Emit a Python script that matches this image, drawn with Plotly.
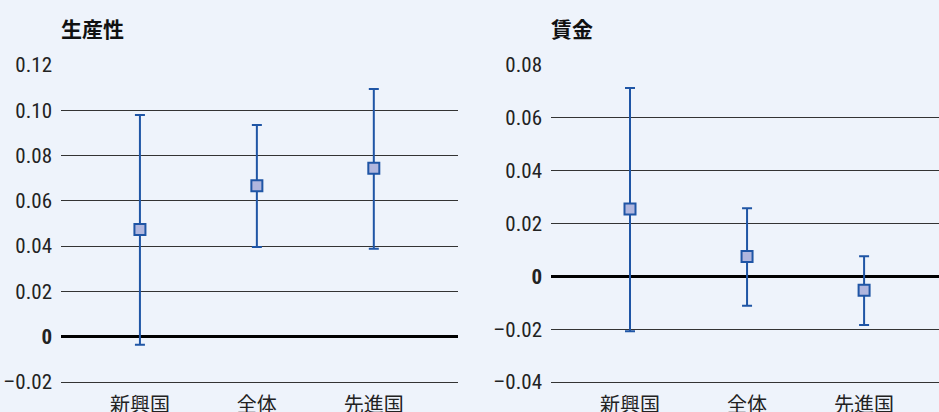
import plotly.graph_objects as go

categories = ["新興国", "全体", "先進国"]

prod_values = [0.0474, 0.0667, 0.0744]
prod_upper = [0.0979, 0.0935, 0.1094]
prod_lower = [-0.0035, 0.0396, 0.0389]

wage_values = [0.0255, 0.0075, -0.0053]
wage_upper = [0.0713, 0.0258, 0.0076]
wage_lower = [-0.0208, -0.0111, -0.0184]

prod_ticks = [-0.02, 0, 0.02, 0.04, 0.06, 0.08, 0.10, 0.12]
prod_ticktext = ["–0.02", "<b>0</b>", "0.02", "0.04", "0.06", "0.08", "0.10", "0.12"]
wage_ticks = [-0.04, -0.02, 0, 0.02, 0.04, 0.06, 0.08]
wage_ticktext = ["–0.04", "–0.02", "<b>0</b>", "0.02", "0.04", "0.06", "0.08"]

titles = ["生産性", "賃金"]

BG = "#EEF3FB"
BLUE = "#1F55A5"
FILL = "#B0B6DE"
NUM_FONT = "Liberation Sans Narrow, Roboto Condensed, Roboto, sans-serif"
CJK_FONT = "Noto Sans CJK JP, sans-serif"

W, H = 939, 412

fig = go.Figure()

def add_panel(values, upper, lower, xa, ya):
    fig.add_trace(go.Scatter(
        x=list(range(len(categories))), y=values, mode="markers",
        xaxis=xa, yaxis=ya,
        marker=dict(symbol="square", size=11, color=FILL, line=dict(color=BLUE, width=2)),
        error_y=dict(type="data", symmetric=False,
                     array=[u - v for u, v in zip(upper, values)],
                     arrayminus=[v - l for v, l in zip(values, lower)],
                     color=BLUE, thickness=2, width=5),
        showlegend=False, cliponaxis=False,
    ))

add_panel(prod_values, prod_upper, prod_lower, "x", "y")
add_panel(wage_values, wage_upper, wage_lower, "x2", "y2")

# slightly padded domain so the end gridlines are drawn
pad = 1.0
ydom = [1 - (382 + pad) / H, 1 - (65 - pad) / H]
span_px = 317.0

def padded(lo, hi):
    per = (hi - lo) / span_px
    return [lo - pad * per, hi + pad * per]

common_x = dict(
    tickmode="array", tickvals=list(range(len(categories))), ticktext=categories,
    showgrid=False, zeroline=False, showline=False, ticks="",
    ticklabelstandoff=8,
    tickfont=dict(family=CJK_FONT, size=20, color="#222"),
    automargin=False, fixedrange=True,
)
common_y = dict(
    showgrid=True, gridcolor="#333333", gridwidth=1.2,
    zeroline=True, zerolinecolor="#000", zerolinewidth=2.5,
    showline=False, ticks="", ticklabelstandoff=8,
    tickfont=dict(family=NUM_FONT, size=21, color="#222"),
    automargin=False, fixedrange=True,
)

fig.update_layout(
    width=W, height=H,
    margin=dict(l=0, r=0, t=0, b=0),
    paper_bgcolor=BG, plot_bgcolor=BG,
    xaxis=dict(domain=[61 / W, 458 / W], range=[-0.675, 2.72], anchor="y", **common_x),
    xaxis2=dict(domain=[551 / W, 1.0], range=[-0.675, 2.64], anchor="y2", **common_x),
    yaxis=dict(domain=ydom, range=padded(-0.02, 0.12), tickvals=prod_ticks, ticktext=prod_ticktext,
               anchor="x", **common_y),
    yaxis2=dict(domain=ydom, range=padded(-0.04, 0.08), tickvals=wage_ticks, ticktext=wage_ticktext,
                anchor="x2", **common_y),
    annotations=[
        dict(text="<b>" + titles[0] + "</b>", x=59 / W, y=1 - 28 / H, xref="paper", yref="paper",
             xanchor="left", yanchor="middle", showarrow=False,
             font=dict(family=CJK_FONT, size=21, color="#111")),
        dict(text="<b>" + titles[1] + "</b>", x=549 / W, y=1 - 28 / H, xref="paper", yref="paper",
             xanchor="left", yanchor="middle", showarrow=False,
             font=dict(family=CJK_FONT, size=21, color="#111")),
    ],
)

fig.write_html("out.html", config={"displayModeBar": False})
